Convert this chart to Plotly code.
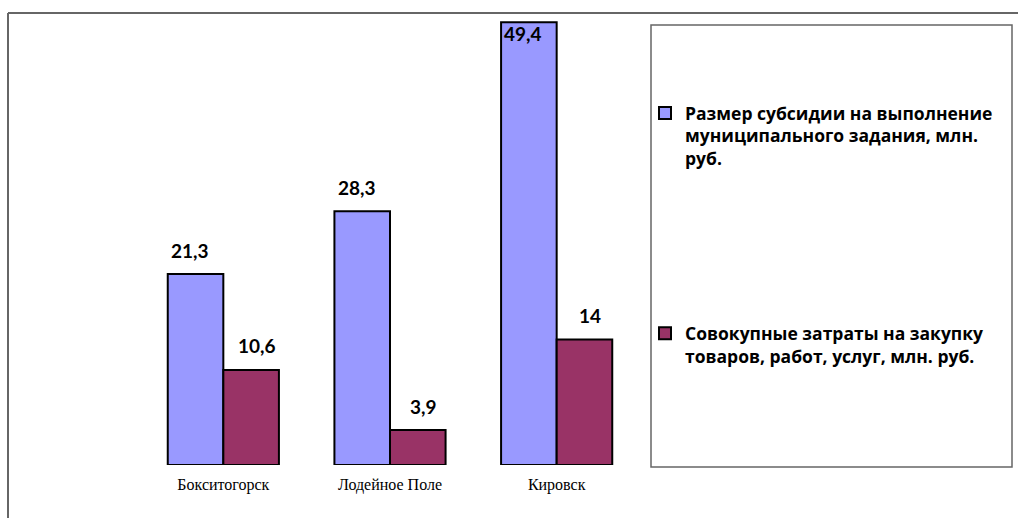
import plotly.graph_objects as go

# Data
towns = ["Бокситогорск", "Лодейное Поле", "Кировск"]
subsidy = [21.3, 28.3, 49.4]
purchases = [10.6, 3.9, 14]
subsidy_labels = ["21,3", "28,3", "49,4"]
purchase_labels = ["10,6", "3,9", "14"]
series_names = [
    "Размер субсидии на выполнение<br>муниципального задания, млн.<br>руб.",
    "Совокупные затраты на закупку<br>товаров, работ, услуг, млн. руб.",
]

BLUE = "#9999FF"
PLUM = "#993366"
Y_MAX = 50.2

# plot area geometry in pixels (for converting outer frame positions)
L, R, T, B = 140, 378, 15, 53
W, H = 1018, 518
pw, ph = W - L - R, H - T - B


def px_x(x):
    return (x - L) / pw


def px_y(y):
    return (H - B - y) / ph


fig = go.Figure()
fig.add_trace(go.Bar(
    x=towns, y=subsidy, name=series_names[0], legendgroup="a",
    marker=dict(color=BLUE, line=dict(color="black", width=2)),
))
fig.add_trace(go.Bar(
    x=towns, y=purchases, name=series_names[1], legendgroup="b",
    marker=dict(color=PLUM, line=dict(color="black", width=2)),
))

# value labels above bars (kept inside the plot area)
units_per_px = Y_MAX / ph
label_font = dict(family="Lato, Open Sans, sans-serif", size=19, color="black")
for vals, labs, off in ((subsidy, subsidy_labels, -0.2), (purchases, purchase_labels, 0.2)):
    for i, (v, t) in enumerate(zip(vals, labs)):
        yc = min(v + 24 * units_per_px, Y_MAX - 18 * units_per_px)
        fig.add_annotation(
            x=i + off, y=yc, xref="x", yref="y", text="<b>%s</b>" % t,
            showarrow=False, font=label_font, yanchor="middle",
        )

# chart frame lines (top and left) and legend box
frame = dict(color="#666666", width=2)
fig.add_shape(type="line", xref="paper", yref="paper",
              x0=px_x(8), x1=px_x(1030), y0=px_y(13), y1=px_y(13), line=frame)
fig.add_shape(type="line", xref="paper", yref="paper",
              x0=px_x(8), x1=px_x(8), y0=px_y(13), y1=px_y(530), line=frame)
fig.add_shape(type="rect", xref="paper", yref="paper",
              x0=px_x(651), x1=px_x(1012), y0=px_y(25), y1=px_y(467),
              line=dict(color="#666666", width=1.5), fillcolor="rgba(0,0,0,0)")

fig.update_layout(
    width=W, height=H,
    margin=dict(l=L, r=R, t=T, b=B, autoexpand=False),
    paper_bgcolor="white", plot_bgcolor="white",
    barmode="group", bargap=0.333, bargroupgap=0,
    showlegend=True,
    legend=dict(
        x=px_x(645), y=px_y(95), xanchor="left", yanchor="top",
        traceorder="grouped", tracegroupgap=149, valign="top",
        font=dict(family="Open Sans, sans-serif", size=17.5, color="black", weight="bold"),
        bgcolor="rgba(0,0,0,0)", borderwidth=0, itemwidth=30,
    ),
    xaxis=dict(
        showline=False, ticks="", showgrid=False, ticklabelstandoff=8,
        tickfont=dict(family="Liberation Serif, serif", size=16, color="black"),
    ),
    yaxis=dict(range=[0, Y_MAX], visible=False, showgrid=False, zeroline=False),
)

fig.write_html("out.html")
